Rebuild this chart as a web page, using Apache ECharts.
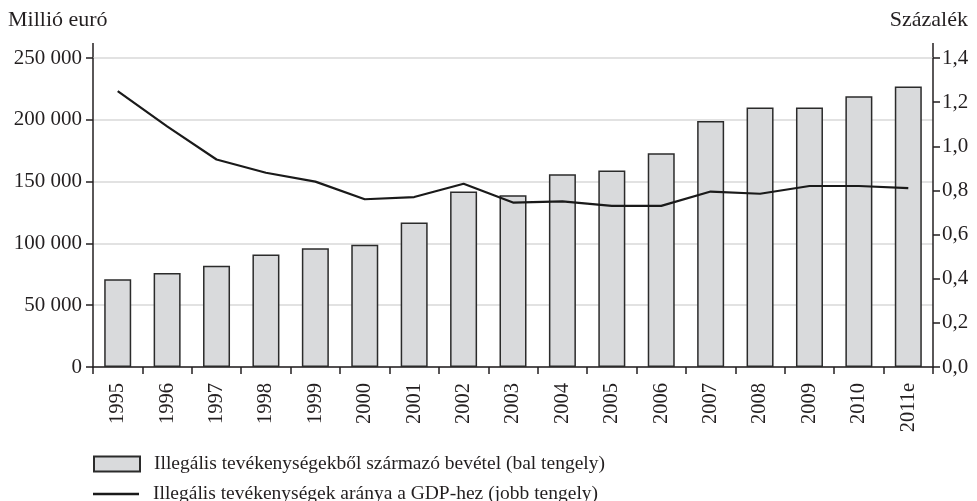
<!DOCTYPE html>
<html>
<head>
<meta charset="utf-8">
<script src="https://cdn.jsdelivr.net/npm/echarts@6/dist/echarts.min.js"></script>
<style>
  html, body { margin: 0; padding: 0; background: #fff; }
  #chart { width: 977px; height: 501px; }
</style>
</head>
<body>
<div id="chart"></div>
<script>
// évek (x tengely)
var years = ['1995', '1996', '1997', '1998', '1999', '2000', '2001', '2002', '2003',
    '2004', '2005', '2006', '2007', '2008', '2009', '2010', '2011e'];
// bevétel, millió euró (bal tengely)
var revenue = [71000, 76000, 82000, 91000, 96000, 99000, 117000, 142000, 139000,
    156000, 159000, 173000, 199000, 210000, 210000, 219000, 227000];
// GDP arány, százalék (jobb tengely)
var share = [1.25, 1.09, 0.94, 0.88, 0.84, 0.76, 0.77, 0.83, 0.745,
    0.75, 0.73, 0.73, 0.795, 0.785, 0.82, 0.82, 0.81];
var leftTicks = { min: 0, max: 250000, interval: 50000 };
var rightTicks = { min: 0, max: 1.4, interval: 0.2 };

var barName = 'Illegális tevékenységekből származó bevétel (bal tengely)';
var lineName = 'Illegális tevékenységek aránya a GDP-hez (jobb tengely)';

var FONT = '"Liberation Serif", "DejaVu Serif", serif';
var TXT = '#231f20';

var oChart = echarts.init(document.getElementById('chart'));

var opt = {
    animation: false,
    textStyle: { fontFamily: FONT, color: TXT },
    title: [
        { text: 'Millió euró', left: 3, top: 4,
          textStyle: { fontFamily: FONT, fontSize: 22, fontWeight: 'normal', color: TXT } },
        { text: 'Százalék', right: 4, top: 4,
          textStyle: { fontFamily: FONT, fontSize: 22, fontWeight: 'normal', color: TXT } }
    ],
    grid: { left: 93, right: 44, top: 58, bottom: 134 },
    legend: [
        {
            left: 88, top: 449,
            itemWidth: 46, itemHeight: 15,
            icon: 'rect',
            textStyle: { fontFamily: FONT, fontSize: 19.5, color: TXT, padding: [0, 0, 0, 9] },
            data: [barName]
        },
        {
            left: 88, top: 479,
            itemWidth: 46, itemHeight: 2.5,
            icon: 'rect',
            itemStyle: { color: '#1a1a1a', borderWidth: 0 },
            textStyle: { fontFamily: FONT, fontSize: 19.5, color: TXT, padding: [0, 0, 0, 9] },
            data: [lineName]
        }
    ],
    xAxis: {
        type: 'category',
        data: years,
        axisLine: { lineStyle: { color: TXT, width: 1.5 } },
        axisTick: { show: true, length: 7, lineStyle: { color: TXT, width: 1.5 } },
        axisLabel: { rotate: 90, fontSize: 20.5, color: TXT, fontFamily: FONT, margin: 16 }
    },
    yAxis: [
        {
            type: 'value',
            min: leftTicks.min, max: leftTicks.max, interval: leftTicks.interval,
            axisLine: { show: true, lineStyle: { color: TXT, width: 1.5 } },
            axisTick: { show: true, length: 7, lineStyle: { color: TXT, width: 1.5 } },
            axisLabel: {
                fontSize: 21, color: TXT, fontFamily: FONT, margin: 11,
                formatter: function (v) {
                    return String(v).replace(/\B(?=(\d{3})+(?!\d))/g, ' ');
                }
            },
            splitLine: { show: true, lineStyle: { color: '#e2e2e2', width: 2 } }
        },
        {
            type: 'value',
            position: 'right',
            min: rightTicks.min, max: rightTicks.max, interval: rightTicks.interval,
            axisLine: { show: true, lineStyle: { color: TXT, width: 1.5 } },
            axisTick: { show: true, length: 7, lineStyle: { color: TXT, width: 1.5 } },
            axisLabel: {
                fontSize: 21, color: TXT, fontFamily: FONT, margin: 9,
                formatter: function (v) { return v.toFixed(1).replace('.', ','); }
            },
            splitLine: { show: false }
        }
    ],
    // tengelyvonalak felső túlnyúlása
    graphic: [
        { type: 'line', shape: { x1: 93, y1: 43, x2: 93, y2: 58 }, style: { stroke: TXT, lineWidth: 1.5 } },
        { type: 'line', shape: { x1: 933, y1: 43, x2: 933, y2: 58 }, style: { stroke: TXT, lineWidth: 1.5 } }
    ],
    series: [
        {
            name: barName,
            type: 'bar',
            yAxisIndex: 0,
            barWidth: 27,
            itemStyle: { color: '#d9dadc', borderColor: '#2b2b2b', borderWidth: 1.5 },
            data: revenue
        },
        {
            name: lineName,
            type: 'line',
            yAxisIndex: 1,
            symbol: 'none',
            lineStyle: { color: '#1a1a1a', width: 2.2 },
            itemStyle: { color: '#1a1a1a' },
            data: share
        }
    ]
};
oChart.setOption(opt);
</script>
</body>
</html>
